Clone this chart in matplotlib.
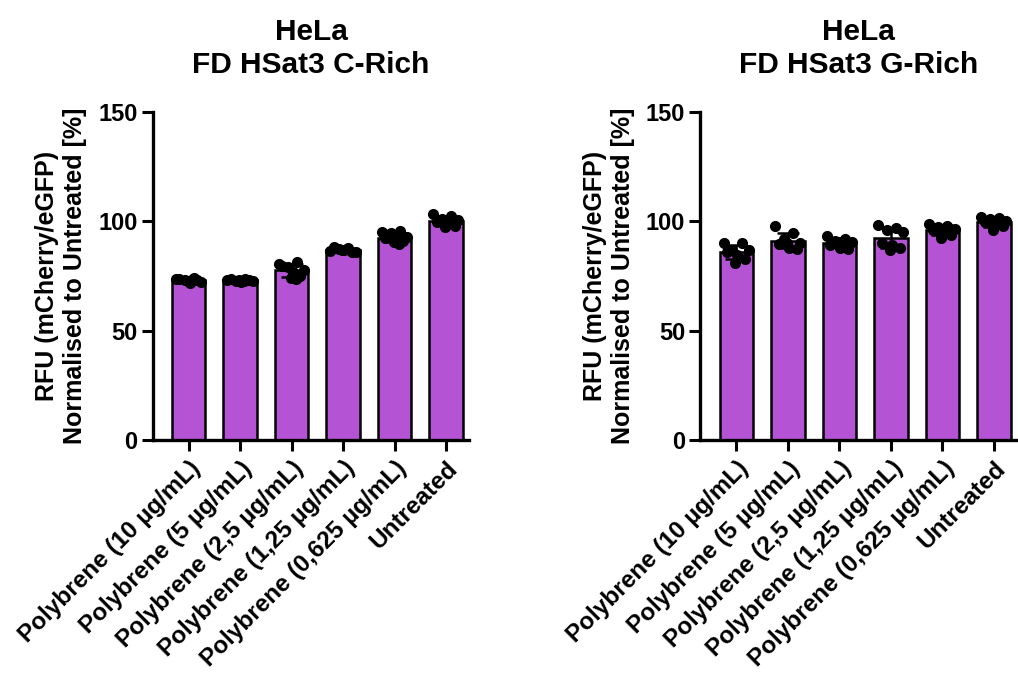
import numpy as np
import matplotlib
matplotlib.use("Agg")
import matplotlib.pyplot as plt

plt.rcParams['font.family'] = ['Liberation Sans', 'DejaVu Sans']
plt.rcParams['font.weight'] = 'bold'

categories = [
    "Polybrene (10 µg/mL)",
    "Polybrene (5 µg/mL)",
    "Polybrene (2,5 µg/mL)",
    "Polybrene (1,25 µg/mL)",
    "Polybrene (0,625 µg/mL)",
    "Untreated",
]

# Replicate measurements, RFU normalised to untreated [%]
c_rich = [
    [73.5, 74.0, 73.0, 72.5, 73.8, 72.0, 73.2, 72.8, 73.6],
    [73.2, 73.8, 72.6, 72.9, 73.5, 72.4, 73.0, 73.4, 72.7],
    [80.5, 81.5, 79.0, 78.0, 79.5, 77.0, 75.0, 74.0, 73.5],
    [86.5, 88.0, 87.5, 86.0, 88.5, 87.0, 85.8, 86.8, 87.6],
    [95.0, 95.5, 94.5, 93.0, 92.5, 92.0, 91.0, 90.5, 89.5],
    [103.5, 102.5, 101.0, 100.5, 99.5, 99.0, 98.0, 97.5, 99.5],
]
g_rich = [
    [90.0, 90.0, 87.0, 87.0, 86.0, 84.5, 83.0, 81.0],
    [97.8, 94.5, 92.0, 90.0, 89.5, 88.0, 87.5, 90.0],
    [93.5, 92.0, 91.0, 90.5, 89.0, 88.0, 87.5, 90.5],
    [98.5, 97.0, 96.0, 95.0, 90.0, 89.0, 88.0, 87.0],
    [99.0, 98.0, 97.5, 96.5, 96.0, 95.0, 94.0, 92.5],
    [102.0, 101.5, 101.0, 100.0, 99.5, 99.0, 98.0, 96.0],
]

panels = [
    ("HeLa\nFD HSat3 C-Rich", c_rich),
    ("HeLa\nFD HSat3 G-Rich", g_rich),
]

# horizontal spread of replicate dots within a bar
spread = [-0.25, 0.1, -0.08, 0.24, -0.18, 0.02, 0.17, -0.02, 0.08]

bar_color = "#B553D5"
fig = plt.figure(figsize=(10.18, 6.75), dpi=100)
lefts = [0.150, 0.688]

for left, (title, groups) in zip(lefts, panels):
    ax = fig.add_axes([left, 0.348, 0.311, 0.486])
    x = np.arange(len(categories))
    means = np.array([np.mean(g) for g in groups])
    sds = np.array([np.std(g, ddof=1) for g in groups])
    ax.bar(x, means, width=0.65, color=bar_color, edgecolor="black",
           linewidth=1.8, zorder=1)
    for xi, g in zip(x, groups):
        n = len(g)
        ax.plot(xi + np.array(spread[:n]), g, 'o', color="black",
                markersize=7, zorder=3, clip_on=False)
    ax.errorbar(x, means, yerr=sds, fmt='none', ecolor="black",
                elinewidth=1.8, capsize=8, capthick=1.8, zorder=4)
    ax.set_xlim(-0.7, 5.45)
    ax.set_ylim(0, 150)
    ax.set_yticks([0, 50, 100, 150])
    ax.set_xticks(x)
    ax.set_xticklabels(categories, rotation=45, ha="right",
                       rotation_mode="anchor", fontsize=17.5, fontweight="bold")
    for lbl in ax.get_yticklabels():
        lbl.set_fontsize(17)
        lbl.set_fontweight("bold")
    ax.tick_params(axis="both", width=2.2, length=8, direction="out")
    ax.tick_params(axis="x", pad=4)
    ax.tick_params(axis="y", pad=3)
    for s in ("top", "right"):
        ax.spines[s].set_visible(False)
    for s in ("left", "bottom"):
        ax.spines[s].set_linewidth(2.4)
    ax.set_ylabel("RFU (mCherry/eGFP)\nNormalised to Untreated [%]",
                  fontsize=18, fontweight="bold", labelpad=8)
    ax.set_title(title, fontsize=21.5, fontweight="bold", pad=28,
                 linespacing=1.25)

fig.savefig("out.png", dpi=100)
